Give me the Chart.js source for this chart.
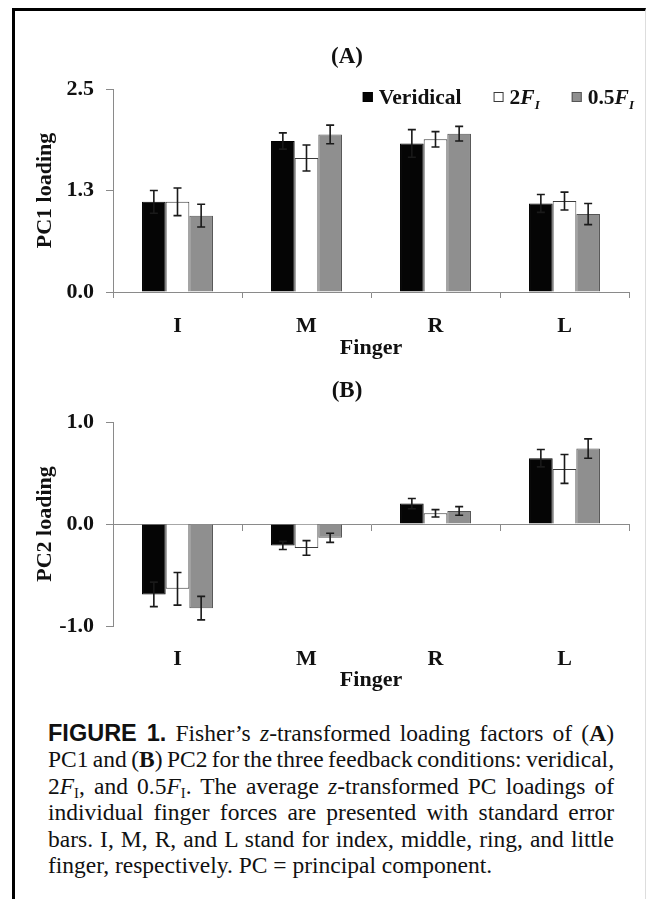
<!DOCTYPE html>
<html><head><meta charset="utf-8">
<script src="https://cdn.jsdelivr.net/npm/chart.js@4/dist/chart.umd.min.js"></script>
<style>
html,body{margin:0;padding:0;background:#fff;width:647px;height:899px;overflow:hidden;position:relative}
#frame{position:absolute;left:12px;top:8px;width:630px;height:1000px;border-left:3px solid #000;border-top:3px solid #000;border-right:1px solid #ddd;}
#cA{position:absolute;left:0;top:0}
#cB{position:absolute;left:0;top:370px}
#caption{position:absolute;left:48px;top:720px;width:566px;font-family:"Liberation Serif";font-size:23.5px;line-height:26.4px;color:#111}
.ln{white-space:nowrap;display:block}
.fig{font-family:"Liberation Sans";font-weight:bold}
sub{font-size:0.62em;line-height:0;vertical-align:-0.25em}
</style>
</head>
<body>
<div id="frame"></div>
<canvas id="cA" width="647" height="370"></canvas>
<canvas id="cB" width="647" height="330"></canvas>
<div id="caption">
<div class="ln"><span class="fig">FIGURE 1.</span> Fisher’s <i>z</i>-transformed loading factors of (<b>A</b>)</div>
<div class="ln">PC1 and (<b>B</b>) PC2 for the three feedback conditions: veridical,</div>
<div class="ln">2<i>F</i><sub>I</sub>, and 0.5<i>F</i><sub>I</sub>. The average <i>z</i>-transformed PC loadings of</div>
<div class="ln">individual finger forces are presented with standard error</div>
<div class="ln">bars. I, M, R, and L stand for index, middle, ring, and little</div>
<div class="ln last">finger, respectively. PC = principal component.</div>
</div>
<script>
// ---- data ----
const fingers = ['I', 'M', 'R', 'L'];
const seriesNames = ['Veridical', '2F_I', '0.5F_I'];

const pc1Veridical = [1.11, 1.86, 1.83, 1.09];
const pc1VeridicalErr = [0.14, 0.10, 0.17, 0.11];
const pc1Double = [1.11, 1.65, 1.88, 1.12];
const pc1DoubleErr = [0.17, 0.16, 0.095, 0.11];
const pc1Half = [0.94, 1.94, 1.95, 0.96];
const pc1HalfErr = [0.14, 0.115, 0.09, 0.13];

const pc2Veridical = [-0.69, -0.21, 0.20, 0.645];
const pc2VeridicalErr = [0.12, 0.04, 0.05, 0.085];
const pc2Double = [-0.635, -0.235, 0.105, 0.54];
const pc2DoubleErr = [0.16, 0.072, 0.036, 0.142];
const pc2Half = [-0.825, -0.135, 0.128, 0.74];
const pc2HalfErr = [0.115, 0.045, 0.042, 0.095];

const pc1Ticks = {min: 0, max: 2.5, step: 1.25};
const pc2Ticks = {min: -1, max: 1, step: 1};

// ---- styling ----
const SERIF = '"Liberation Serif", "Times New Roman", serif';
const tickFont = {family: SERIF, size: 22, weight: 'bold'};
const axisGray = '#8a8a8a';
const fills = ['#050505', '#ffffff', '#8f8f8f'];
const borders = ['#000000', '#3a3a3a', '#555555'];

function makeDatasets(vals, errs) {
  return vals.map((v, i) => ({
    label: seriesNames[i],
    data: v,
    errors: errs[i],
    backgroundColor: fills[i],
    borderColor: borders[i],
    borderWidth: 1,
    categoryPercentage: 0.55,
    barPercentage: 1.0
  }));
}

const errorBars = {
  id: 'errorBars',
  afterDatasetsDraw(chart) {
    const ctx = chart.ctx, ys = chart.scales.y;
    chart.data.datasets.forEach((ds, i) => {
      const meta = chart.getDatasetMeta(i);
      meta.data.forEach((bar, j) => {
        const v = ds.data[j], e = ds.errors[j];
        const x = bar.x, y1 = ys.getPixelForValue(v + e), y2 = ys.getPixelForValue(v - e);
        ctx.save();
        ctx.strokeStyle = '#1a1a1a';
        ctx.lineWidth = 1.6;
        ctx.beginPath();
        ctx.moveTo(x, y1); ctx.lineTo(x, y2);
        ctx.moveTo(x - 4, y1); ctx.lineTo(x + 4, y1);
        ctx.moveTo(x - 4, y2); ctx.lineTo(x + 4, y2);
        ctx.stroke();
        ctx.restore();
      });
    });
  }
};

const panelTitle = {
  id: 'panelTitle',
  afterDraw(chart, args, opts) {
    if (!opts.text) return;
    const ctx = chart.ctx;
    ctx.save();
    ctx.font = 'bold 23px ' + SERIF;
    ctx.fillStyle = '#111';
    ctx.textAlign = 'center';
    ctx.textBaseline = 'alphabetic';
    ctx.fillText(opts.text, opts.x, opts.y);
    ctx.restore();
  }
};

function labelSegs(label) {
  const m = label.match(/^(.*)F_(.)$/);
  const up = 'bold 21.5px ' + SERIF, it = 'italic bold 21.5px ' + SERIF, sm = 'italic bold 13px ' + SERIF;
  if (!m) return [{t: label, font: up, dy: 0}];
  return [{t: m[1], font: up, dy: 0}, {t: 'F', font: it, dy: 0}, {t: m[2], font: sm, dy: 5}];
}

const richLegend = {
  id: 'richLegend',
  afterDraw(chart, args, opts) {
    if (!opts.display) return;
    const ctx = chart.ctx, ca = chart.chartArea;
    const boxW = 10, gap = 6, spacing = 32;
    ctx.save();
    const items = chart.data.datasets.map(ds => {
      const segs = labelSegs(ds.label);
      let w = 0;
      segs.forEach(s => { ctx.font = s.font; s.w = ctx.measureText(s.t).width; w += s.w; });
      return {segs, w, fill: ds.backgroundColor, stroke: ds.borderColor};
    });
    const total = items.reduce((a, it) => a + boxW + gap + it.w, 0) + spacing * (items.length - 1);
    let x = ca.right + 5 - total;
    const base = ca.top + 14.5;
    items.forEach(it => {
      ctx.fillStyle = it.fill;
      ctx.fillRect(x, ca.top + 3, boxW, boxW);
      ctx.strokeStyle = it.stroke;
      ctx.lineWidth = 1;
      ctx.strokeRect(x + 0.5, ca.top + 3.5, boxW - 1, boxW - 1);
      x += boxW + gap;
      ctx.fillStyle = '#111';
      ctx.textBaseline = 'alphabetic';
      it.segs.forEach(s => { ctx.font = s.font; ctx.fillText(s.t, x, base + s.dy); x += s.w; });
      x += spacing;
    });
    ctx.restore();
  }
};

function yAxis(t, title) {
  return {
    min: t.min, max: t.max,
    grid: {display: true, drawOnChartArea: false, drawTicks: true, tickLength: 7, color: axisGray},
    border: {display: true, color: axisGray, width: 1},
    ticks: {stepSize: t.step, font: tickFont, color: '#111', padding: 12,
            callback: v => Number(v).toFixed(1)},
    title: {display: true, text: title, font: tickFont, color: '#111', padding: {top: 4, bottom: 4}},
    afterFit: s => { s.width = 85; }
  };
}

Chart.defaults.font.family = SERIF;

// Panel A
new Chart(document.getElementById('cA'), {
  type: 'bar',
  data: {labels: fingers, datasets: makeDatasets([pc1Veridical, pc1Double, pc1Half], [pc1VeridicalErr, pc1DoubleErr, pc1HalfErr])},
  options: {
    responsive: false, animation: false,
    layout: {padding: {left: 28, right: 18, top: 89, bottom: 6}},
    plugins: {legend: {display: false}, tooltip: {enabled: false},
              panelTitle: {text: '(A)', x: 347, y: 62.5},
              richLegend: {display: true}},
    scales: {
      x: {
        grid: {display: true, drawOnChartArea: false, drawTicks: true, tickLength: 6, color: axisGray},
        border: {display: true, color: axisGray, width: 1},
        ticks: {font: tickFont, color: '#111', padding: 15},
        title: {display: true, text: 'Finger', font: tickFont, color: '#111', padding: {top: 0, bottom: 2}},
        afterFit: s => { s.height = 72; }
      },
      y: yAxis(pc1Ticks, 'PC1 loading')
    }
  },
  plugins: [errorBars, panelTitle, richLegend]
});

// Panel B
new Chart(document.getElementById('cB'), {
  type: 'bar',
  data: {labels: fingers, datasets: makeDatasets([pc2Veridical, pc2Double, pc2Half], [pc2VeridicalErr, pc2DoubleErr, pc2HalfErr])},
  options: {
    responsive: false, animation: false,
    layout: {padding: {left: 28, right: 18, top: 52, bottom: 4}},
    plugins: {legend: {display: false}, tooltip: {enabled: false},
              panelTitle: {text: '(B)', x: 347, y: 26.5},
              richLegend: {display: false}},
    scales: {
      x: {
        position: {y: 0},
        grid: {display: true, drawOnChartArea: false, drawTicks: true, tickLength: 6, color: axisGray},
        border: {display: true, color: axisGray, width: 1},
        ticks: {display: false}
      },
      x2: {
        type: 'category', position: 'bottom', offset: true,
        grid: {display: false, drawTicks: false},
        border: {display: false},
        ticks: {font: tickFont, color: '#111', padding: 20},
        title: {display: true, text: 'Finger', font: tickFont, color: '#111', padding: {top: 0, bottom: 2}},
        afterFit: s => { s.height = 70; }
      },
      y: yAxis(pc2Ticks, 'PC2 loading')
    }
  },
  plugins: [errorBars, panelTitle, richLegend]
});

// justify caption lines to the caption width
(function () {
  const cap = document.getElementById('caption');
  const W = cap.clientWidth;
  cap.querySelectorAll('.ln').forEach(ln => {
    if (ln.classList.contains('last')) return;
    ln.style.display = 'inline-block';
    const w = ln.getBoundingClientRect().width;
    const n = (ln.textContent.trim().match(/ +/g) || []).length;
    ln.style.display = 'block';
    if (n) ln.style.wordSpacing = ((W - w) / n) + 'px';
  });
})();
</script>
</body></html>
